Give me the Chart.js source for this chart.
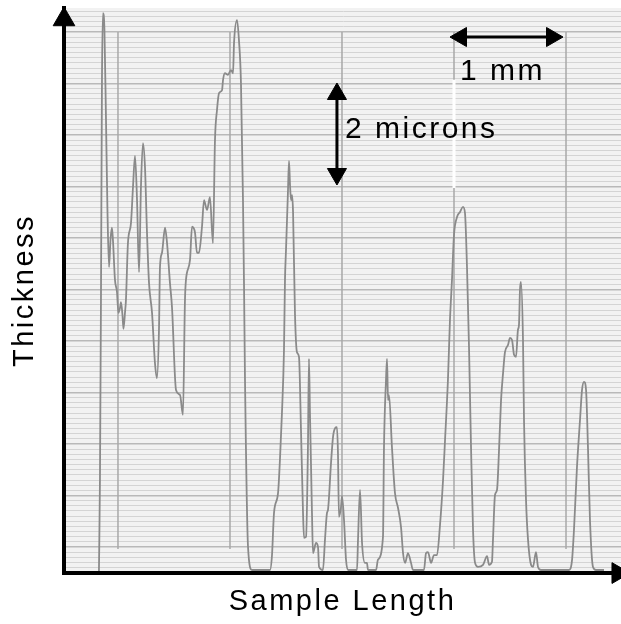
<!DOCTYPE html>
<html>
<head>
<meta charset="utf-8">
<title>Thickness profile</title>
<script src="https://cdn.jsdelivr.net/npm/chart.js@4.4.1/dist/chart.umd.min.js"></script>
<style>
  html, body { margin: 0; padding: 0; background: #fff; }
  #wrap { width: 621px; height: 624px; }
</style>
</head>
<body>
<div id="wrap"><canvas id="profile" width="621" height="624"></canvas></div>
<script>
// ===== Data =====
// sample length in mm, thickness in microns above the trace base line
const profileX = [
  0.830, 0.839, 0.848, 0.857, 0.866, 0.879, 0.893, 0.906, 0.920, 0.933,
  0.946, 0.955, 0.973, 0.991, 1.004, 1.018, 1.027, 1.040, 1.049, 1.063,
  1.071, 1.089, 1.116, 1.134, 1.152, 1.170, 1.188, 1.205, 1.223, 1.241,
  1.259, 1.277, 1.304, 1.330, 1.348, 1.366, 1.375, 1.393, 1.420, 1.438,
  1.464, 1.482, 1.518, 1.554, 1.580, 1.598, 1.607, 1.643, 1.661, 1.688,
  1.705, 1.723, 1.750, 1.768, 1.795, 1.821, 1.848, 1.866, 1.884, 1.902,
  1.929, 1.938, 1.955, 1.982, 2.009, 2.027, 2.036, 2.063, 2.080, 2.098,
  2.116, 2.125, 2.134, 2.161, 2.196, 2.357, 2.375, 2.393, 2.429, 2.446,
  2.464, 2.482, 2.491, 2.500, 2.518, 2.527, 2.536, 2.545, 2.554, 2.563,
  2.580, 2.598, 2.616, 2.634, 2.652, 2.661, 2.679, 2.696, 2.705, 2.714,
  2.732, 2.741, 2.768, 2.786, 2.795, 2.830, 2.848, 2.866, 2.875, 2.902,
  2.920, 2.938, 2.955, 2.964, 2.973, 2.991, 3.000, 3.018, 3.036, 3.054,
  3.134, 3.143, 3.161, 3.179, 3.205, 3.223, 3.232, 3.304, 3.321, 3.366,
  3.375, 3.393, 3.402, 3.411, 3.420, 3.446, 3.473, 3.500, 3.527, 3.545,
  3.563, 3.589, 3.616, 3.634, 3.732, 3.750, 3.768, 3.795, 3.821, 3.848,
  3.875, 3.902, 3.920, 3.946, 3.964, 3.982, 4.000, 4.027, 4.054, 4.080,
  4.098, 4.116, 4.134, 4.152, 4.170, 4.188, 4.214, 4.259, 4.295, 4.313,
  4.339, 4.348, 4.366, 4.384, 4.402, 4.420, 4.438, 4.455, 4.482, 4.500,
  4.518, 4.536, 4.554, 4.571, 4.580, 4.589, 4.598, 4.616, 4.625, 4.643,
  4.661, 4.688, 4.705, 4.732, 4.750, 4.777, 5.027, 5.054, 5.071, 5.098,
  5.125, 5.143, 5.161, 5.179, 5.196, 5.214, 5.241, 5.268, 5.339
];
const profileY = [
  0.00, 1.78, 5.31, 9.63, 10.94, 10.61, 8.84, 7.08, 5.96, 6.49,
  6.73, 6.49, 5.71, 5.47, 5.06, 5.16, 5.27, 5.02, 4.75, 5.08,
  5.31, 6.43, 6.82, 7.53, 8.14, 7.27, 5.86, 7.53, 8.39, 7.92,
  6.63, 5.65, 5.06, 4.08, 3.78, 4.73, 5.96, 6.24, 6.73, 6.43,
  5.65, 5.18, 3.55, 3.45, 3.06, 5.31, 5.71, 6.10, 6.75, 6.63,
  6.24, 6.24, 6.75, 7.27, 7.08, 7.33, 6.43, 8.45, 9.04, 9.37,
  9.43, 9.63, 9.76, 9.73, 9.82, 9.76, 10.35, 10.80, 10.41, 9.57,
  7.27, 5.65, 3.75, 0.47, 0.02, 0.02, 0.31, 1.14, 1.53, 2.18,
  3.10, 4.33, 5.71, 6.29, 7.47, 8.04, 7.57, 7.27, 7.37, 7.04,
  5.06, 4.29, 4.20, 2.76, 1.14, 0.65, 0.67, 2.43, 4.16, 3.10,
  1.14, 0.35, 0.55, 0.47, 0.08, 0.02, 0.61, 1.14, 1.20, 2.12,
  2.63, 2.80, 2.82, 2.31, 1.06, 1.25, 1.47, 1.00, 0.22, 0.02,
  0.02, 0.61, 1.59, 0.55, 0.16, 0.16, 0.02, 0.02, 0.22, 0.67,
  2.43, 3.75, 4.16, 3.35, 3.45, 2.43, 1.53, 1.24, 0.86, 0.35,
  0.16, 0.35, 0.16, 0.02, 0.02, 0.35, 0.37, 0.16, 0.31, 0.31,
  0.90, 1.78, 2.57, 3.75, 4.92, 5.71, 6.59, 6.94, 7.04, 7.14,
  7.02, 5.96, 4.39, 2.43, 0.80, 0.16, 0.08, 0.12, 0.29, 0.12,
  0.18, 0.61, 1.49, 1.59, 2.37, 3.35, 3.88, 4.29, 4.43, 4.57,
  4.53, 4.24, 4.20, 4.73, 4.82, 5.51, 5.67, 4.53, 2.96, 1.39,
  0.61, 0.12, 0.08, 0.37, 0.08, 0.02, 0.02, 0.22, 0.80, 2.04,
  2.96, 3.55, 3.71, 3.55, 2.43, 1.00, 0.08, 0.02, 0.02
];

// chart paper: vertical division lines every 1 mm
const paperDivisions = [1, 2, 3, 4, 5];

// scale bars: 1 mm across, 2 microns tall
const mmBarX = [4.0625, 4.875];
const mmBarY = [10.47, 10.47];
const micronBarX = [2.955, 2.955];
const micronBarY = [9.353, 7.784];

// ===== Layout / style settings =====
const X_MIN = 0.518, X_MAX = 5.491;      // mm across the plot
const Y_MIN = -0.039, Y_MAX = 11.039;    // microns, trace scale
const PAPER_MIN = -0.505, PAPER_MAX = 10.466; // paper ruling, 1 unit = major line
const PAPER_TOP = 10, PAPER_BOTTOM = -0.04;
const FONT = "'Liberation Sans', Arial, Helvetica, sans-serif";
const PAPER_COLOR = '#f2f2f2';
const TRACE_COLOR = '#8a8a8a';

const notes = [
  { text: '2 microns', x: 3.027, y: 8.49 },
  { text: '1 mm', x: 4.054, y: 9.63 }
];

const traceData = profileX.map((x, i) => ({ x, y: profileY[i] }));
const divisionData = paperDivisions.flatMap(d => [
  { x: d, y: PAPER_TOP }, { x: d, y: PAPER_BOTTOM }, { x: d, y: null }
]);
const pair = (xs, ys) => xs.map((x, i) => ({ x, y: ys[i] }));

// ===== Plugins =====
const paperBg = {
  id: 'paperBg',
  beforeDraw(chart) {
    const { ctx, chartArea: a } = chart;
    ctx.save();
    ctx.fillStyle = PAPER_COLOR;
    ctx.fillRect(a.left, a.top, a.right - a.left, a.bottom - a.top);
    ctx.restore();
    ctx.letterSpacing = '2.5px';   // wide lettering like the original figure
  },
  afterDraw(chart) {
    chart.ctx.letterSpacing = '0px';
  }
};

const noteText = {
  id: 'noteText',
  afterDatasetsDraw(chart) {
    const { ctx, scales } = chart;
    ctx.save();
    ctx.font = '30px ' + FONT;
    ctx.fillStyle = '#000';
    ctx.textAlign = 'left';
    ctx.textBaseline = 'alphabetic';
    notes.forEach(n => {
      ctx.fillText(n.text, scales.x.getPixelForValue(n.x), scales.y.getPixelForValue(n.y));
    });
    ctx.restore();
  }
};

// ===== Chart =====
const arrowStyle = {
  borderColor: '#000', borderWidth: 3,
  pointStyle: 'triangle', pointRadius: 11, pointHoverRadius: 11,
  pointBackgroundColor: '#000', pointBorderColor: '#000', pointBorderWidth: 1,
  xAxisID: 'x', yAxisID: 'y', order: 0, clip: false
};

new Chart(document.getElementById('profile'), {
  type: 'line',
  data: {
    datasets: [
      { label: 'profile', data: traceData, xAxisID: 'x', yAxisID: 'y',
        borderColor: TRACE_COLOR, borderWidth: 1.8, pointRadius: 0,
        cubicInterpolationMode: 'monotone', order: 2 },
      { label: 'divisions', data: divisionData, xAxisID: 'x', yAxisID: 'paper',
        borderColor: '#a8a8a8', borderWidth: 1.5, pointRadius: 0, order: 3 },
      { label: 'gap', data: pair([4, 4], [9.63, 7.51]), xAxisID: 'x', yAxisID: 'y',
        borderColor: '#ffffff', borderWidth: 3, pointRadius: 0, order: 1 },
      Object.assign({ label: '1 mm', data: pair(mmBarX, mmBarY), pointRotation: [270, 90] }, arrowStyle),
      Object.assign({ label: '2 microns', data: pair(micronBarX, micronBarY), pointRotation: [0, 180] }, arrowStyle),
      Object.assign({}, arrowStyle, { label: 'y arrow', data: [{ x: X_MIN, y: 10.814 }],
        pointRadius: 12.5, pointRotation: 0, showLine: false }),
      Object.assign({}, arrowStyle, { label: 'x arrow', data: [{ x: 5.464, y: -0.04 }],
        pointRadius: 12, pointRotation: 90, showLine: false })
    ]
  },
  options: {
    responsive: false, animation: false,
    layout: { autoPadding: false, padding: { top: 8, right: 0, bottom: 0, left: 0 } },
    plugins: { legend: { display: false }, tooltip: { enabled: false } },
    scales: {
      x: {
        type: 'linear', position: 'bottom', min: X_MIN, max: X_MAX,
        ticks: { display: false },
        grid: { display: false, drawTicks: false },
        border: { display: true, color: '#000', width: 4 },
        title: { display: true, text: 'Sample Length', color: '#000',
          font: { family: FONT, size: 29 }, padding: { top: 11.6, bottom: 4.6 } }
      },
      paper: {
        type: 'linear', position: 'left', min: PAPER_MIN, max: PAPER_MAX,
        ticks: { display: false, stepSize: 0.1, includeBounds: false },
        grid: {
          drawTicks: false,
          color: c => Math.abs(c.tick.value - Math.round(c.tick.value)) < 1e-6 ? '#b9b9b9' : '#d4d4d4',
          lineWidth: c => Math.abs(c.tick.value - Math.round(c.tick.value)) < 1e-6 ? 1.6 : 1
        },
        border: { display: true, color: '#000', width: 4 },
        title: { display: true, text: 'Thickness', color: '#000',
          font: { family: FONT, size: 29 }, padding: { top: 7.6, bottom: 21.6 } }
      },
      y: { type: 'linear', display: false, min: Y_MIN, max: Y_MAX }
    }
  },
  plugins: [paperBg, noteText]
});
</script>
</body>
</html>
